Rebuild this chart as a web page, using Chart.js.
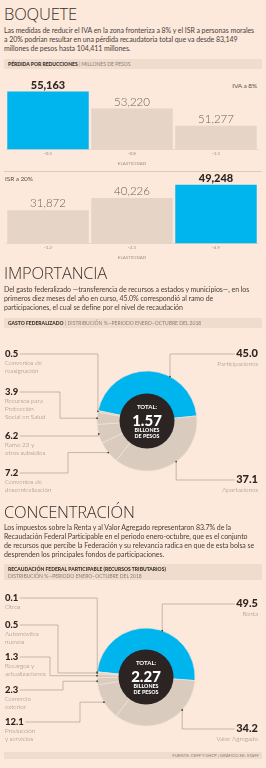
<!DOCTYPE html>
<html lang="es">
<head>
<meta charset="utf-8">
<script src="https://cdn.jsdelivr.net/npm/chart.js@4.4.1/dist/chart.umd.min.js"></script>
<style>
  body { margin:0; width:266px; height:768px; background:#fce9db; position:relative; overflow:hidden; font-family:Lato, "Open Sans", sans-serif; color:#3d3430; }
  .abs { position:absolute; }
  .title { left:4px; font-family:"Open Sans", Lato, sans-serif; font-weight:300; font-size:16.5px; line-height:16px; color:#3a302c; letter-spacing:-0.2px; }
  .para { left:4px; font-size:7px; line-height:9px; letter-spacing:-0.06px; color:#4a403b; white-space:nowrap; }
  .band { left:4px; width:258px; background:#efdccd; font-size:5px; color:#8c7f78; padding-left:4px; box-sizing:border-box; white-space:nowrap; }
  .band b { color:#3a302c; font-weight:900; }
  .tag { font-size:6.5px; color:#5a4f4a; letter-spacing:-0.1px; }
  canvas { position:absolute; left:0; }
</style>
</head>
<body>

<div class="abs title" style="top:6px">BOQUETE</div>
<div class="abs para" style="top:26px">Las medidas de reducir el IVA en la zona fronteriza a 8% y el ISR a personas morales<br>a 20% podrían resultar en una pérdida recaudatoria total que va desde 83,149<br>millones de pesos hasta 104,411 millones.</div>
<div class="abs band" style="top:59px;height:10px;line-height:10px"><b>PÉRDIDA POR REDUCCIONES</b> | MILLONES DE PESOS</div>
<div class="abs tag" style="top:82px;right:9px">IVA a 8%</div>
<canvas id="ivaChart" width="266" height="100" style="top:72px"></canvas>
<div class="abs" style="top:171px;left:4px;width:258px;height:0;border-top:0.6px solid #dccbbe"></div>
<div class="abs tag" style="top:175px;left:5px">ISR a 20%</div>
<canvas id="isrChart" width="266" height="100" style="top:168px"></canvas>

<div class="abs title" style="top:265px">IMPORTANCIA</div>
<div class="abs para" style="top:285px">Del gasto federalizado —transferencia de recursos a estados y municipios—, en los<br>primeros diez meses del año en curso, 45.0% correspondió al ramo de<br>participaciones, el cual se define por el nivel de recaudación</div>
<div class="abs band" style="top:318px;height:10px;line-height:10px"><b>GASTO FEDERALIZADO</b> | DISTRIBUCIÓN %—PERIODO ENERO–OCTUBRE DEL 2018</div>
<canvas id="gastoChart" width="266" height="166" style="top:338px"></canvas>

<div class="abs title" style="top:504px">CONCENTRACIÓN</div>
<div class="abs para" style="top:523px">Los impuestos sobre la Renta y al Valor Agregado representaron 83.7% de la<br>Recaudación Federal Participable en el periodo enero-octubre, que es el conjunto<br>de recursos que percibe la Federación y su relevancia radica en que de esta bolsa se<br>desprenden los principales fondos de participaciones.</div>
<div class="abs band" style="top:564px;height:16px;line-height:6.5px;padding-top:2px"><b>RECAUDACIÓN FEDERAL PARTICIPABLE (RECURSOS TRIBUTARIOS)</b><br>DISTRIBUCIÓN %—PERIODO ENERO–OCTUBRE DEL 2018</div>
<canvas id="rfpChart" width="266" height="166" style="top:588px"></canvas>
<div class="abs band" style="top:752px;height:7px;line-height:7px;font-size:4.3px;text-align:right;padding-right:3px">FUENTE: CEFP Y SHCP | GRÁFICO EE: STAFF</div>

<script>
// pérdida recaudatoria, millones de pesos
const ivaElasticity = ['-0.3', '-0.8', '-1.3'];
const ivaLoss = [55163, 53220, 51277];
const isrElasticity = ['-1.2', '-2.3', '-4.9'];
const isrLoss = [31872, 40226, 49248];

// gasto federalizado, distribución %
const gastoLabels = ['Participaciones', 'Aportaciones', 'Convenios de\ndescentralización', 'Ramo 23 y\notros subsidios', 'Recursos para\nProtección\nSocial en Salud', 'Convenios de\nreasignación'];
const gastoShares = [45.0, 37.1, 7.2, 6.2, 3.9, 0.5];
const gastoTotal = '1.57';

// recaudación federal participable, distribución %
const rfpLabels = ['Renta', 'Valor Agregado', 'Producción\ny servicios', 'Comercio\nexterior', 'Recargos y\nactualizaciones', 'Automóviles\nnuevos', 'Otros'];
const rfpShares = [49.5, 34.2, 12.1, 2.3, 1.3, 0.5, 0.1];
const rfpTotal = '2.27';

const BLUE = '#00b5ee';
const BAR_GRAY = '#e6d4c6';
const RING_GRAY = '#dacbbf';
const AXIS_TXT = '#9c9089';

const barValues = {
  id: 'barValues',
  afterDatasetsDraw(chart) {
    const ctx = chart.ctx;
    const data = chart.data.datasets[0].data;
    const peak = Math.max(...data);
    chart.getDatasetMeta(0).data.forEach((bar, i) => {
      const hi = data[i] === peak;
      ctx.save();
      ctx.font = hi ? '900 11px Lato' : '300 11.5px Lato';
      ctx.fillStyle = hi ? '#2f2623' : '#6b605a';
      ctx.textAlign = 'center';
      ctx.fillText(data[i].toLocaleString('en-US'), bar.x, bar.y - 3);
      ctx.restore();
    });
  }
};

function makeBars(id, labels, values, min, max, pad) {
  const peak = Math.max(...values);
  return new Chart(document.getElementById(id), {
    type: 'bar',
    data: {
      labels,
      datasets: [{
        data: values,
        backgroundColor: values.map(v => v === peak ? BLUE : BAR_GRAY),
        borderWidth: 0,
        categoryPercentage: 0.97,
        barPercentage: 1
      }]
    },
    options: {
      responsive: false,
      animation: false,
      events: [],
      layout: { padding: pad },
      plugins: { legend: { display: false }, tooltip: { enabled: false } },
      scales: {
        x: {
          grid: { display: false, drawTicks: false },
          border: { display: true, color: '#dccbbe', width: 0.6 },
          ticks: { color: AXIS_TXT, font: { size: 4.5, family: 'Lato' }, padding: 2 },
          title: { display: true, text: 'ELASTICIDAD', color: AXIS_TXT, font: { size: 4.5, family: 'Lato' }, padding: { top: 2, bottom: 0 } }
        },
        y: { display: false, min, max }
      }
    },
    plugins: [barValues]
  });
}

makeBars('ivaChart', ivaElasticity, ivaLoss, 48600, 56700, { left: 6, right: 8, top: 6, bottom: 6 });
makeBars('isrChart', isrElasticity, isrLoss, 9200, 53900, { left: 6, right: 8, top: 10, bottom: 8 });

// where each donut label sits on the page (y of its leader line) and how the leader bends
const gastoSpots = [
  { side: 'right', y: 354, along: 0.65 },
  { side: 'right', y: 480, along: 0.45 },
  { side: 'left', y: 473, elbow: 68 },
  { side: 'left', y: 436 },
  { side: 'left', y: 392, elbow: 60 },
  { side: 'left', y: 354 }
];
const rfpSpots = [
  { side: 'right', y: 604, along: 0.58 },
  { side: 'right', y: 729, along: 0.31 },
  { side: 'left', y: 722, elbow: 80 },
  { side: 'left', y: 690, elbow: 63 },
  { side: 'left', y: 657, elbow: 50 },
  { side: 'left', y: 625, elbow: 58 },
  { side: 'left', y: 598 }
];

function donutDecor(spots, total) {
  return {
    id: 'donutDecor',
    afterDatasetsDraw(chart) {
      const ctx = chart.ctx;
      const arcs = chart.getDatasetMeta(0).data;
      const shares = chart.data.datasets[0].data;
      const names = chart.data.labels;
      const offY = chart.canvas.offsetTop;
      const c = arcs[0].getProps(['x', 'y']);

      // center disc
      ctx.save();
      ctx.fillStyle = '#2b2422';
      ctx.beginPath();
      ctx.arc(c.x, c.y, 27.5, 0, Math.PI * 2);
      ctx.fill();
      ctx.fillStyle = '#ffffff';
      ctx.textAlign = 'center';
      ctx.font = '700 6px Lato';
      ctx.fillText('TOTAL:', c.x, c.y - 12);
      ctx.font = '900 15px Lato';
      ctx.fillText(total, c.x, c.y + 4.5);
      ctx.font = '900 5.3px Lato';
      ctx.fillText('BILLONES', c.x, c.y + 10.5);
      ctx.fillText('DE PESOS', c.x, c.y + 17);
      ctx.restore();

      arcs.forEach((arc, i) => {
        const p = arc.getProps(['x', 'y', 'startAngle', 'endAngle', 'outerRadius']);
        const s = spots[i];
        const a = p.startAngle + (p.endAngle - p.startAngle) * (s.along ?? 0.5);
        const ax = p.x + p.outerRadius * Math.cos(a);
        const ay = p.y + p.outerRadius * Math.sin(a);
        const ly = s.y - offY;
        const value = shares[i].toFixed(1);
        const right = s.side === 'right';

        ctx.save();
        ctx.font = right ? '900 11px Lato' : '900 9.5px Lato';
        const w = ctx.measureText(value).width;
        const tx = right ? 258 : 5;
        const lineStart = right ? tx - w - 1.5 : tx + w + 1.5;
        const ex = s.elbow ?? ax;

        ctx.strokeStyle = '#a0948c';
        ctx.lineWidth = 0.6;
        ctx.beginPath();
        ctx.moveTo(lineStart, ly);
        ctx.lineTo(ex, ly);
        ctx.lineTo(ex, ay);
        ctx.lineTo(ax, ay);
        ctx.stroke();

        ctx.fillStyle = '#4a403b';
        ctx.beginPath();
        ctx.arc(ax, ay, 0.9, 0, Math.PI * 2);
        ctx.fill();

        ctx.fillStyle = '#2f2623';
        ctx.textAlign = right ? 'right' : 'left';
        ctx.textBaseline = 'middle';
        ctx.fillText(value, tx, ly - 0.5);

        ctx.textBaseline = 'alphabetic';
        ctx.font = '300 6.3px Lato';
        ctx.fillStyle = '#8a7e77';
        names[i].split('\n').forEach((line, k) => {
          ctx.fillText(line, tx, ly + (right ? 11.5 : 10.5) + k * 8.3);
        });
        ctx.restore();
      });
    }
  };
}

function makeDonut(id, labels, values, total, spots, rotation, radius, pad) {
  return new Chart(document.getElementById(id), {
    type: 'doughnut',
    data: {
      labels,
      datasets: [{
        data: values,
        backgroundColor: values.map((v, i) => i === 0 ? BLUE : RING_GRAY),
        borderColor: '#efe3d9',
        borderWidth: 0.7
      }]
    },
    options: {
      responsive: false,
      animation: false,
      events: [],
      rotation,
      radius,
      cutout: 31,
      layout: { padding: pad },
      plugins: { legend: { display: false }, tooltip: { enabled: false } }
    },
    plugins: [donutDecor(spots, total)]
  });
}

makeDonut('gastoChart', gastoLabels, gastoShares, gastoTotal, gastoSpots, -78, 50, { left: 28, top: 0, bottom: 0 });
makeDonut('rfpChart', rfpLabels, rfpShares, rfpTotal, rfpSpots, -84, 49, { left: 26, top: 12, bottom: 0 });
</script>
</body>
</html>
